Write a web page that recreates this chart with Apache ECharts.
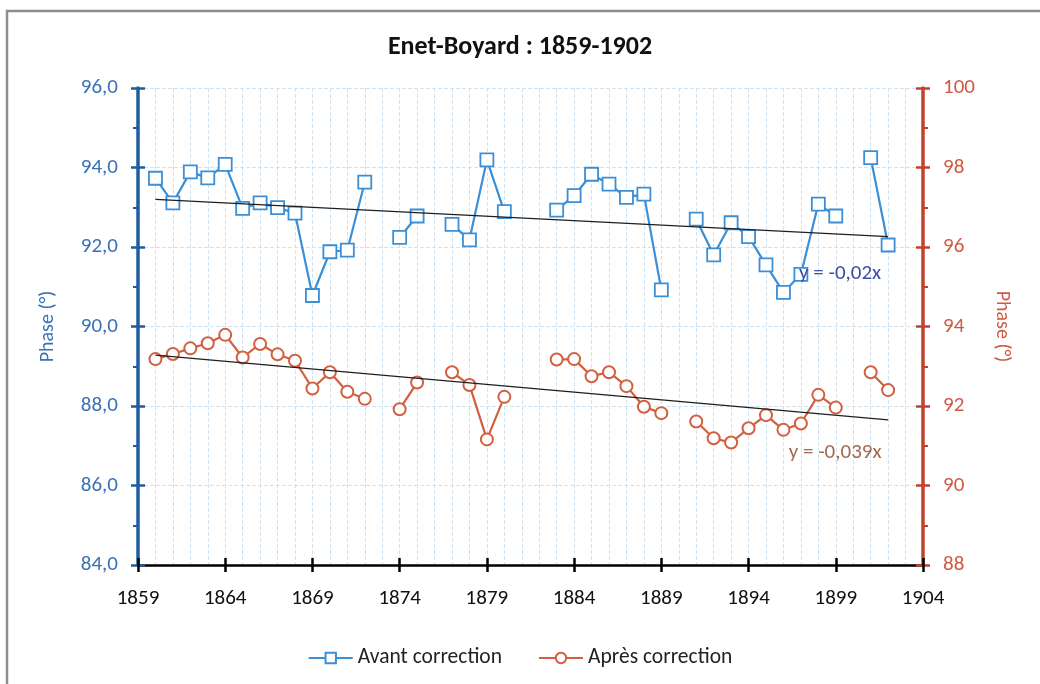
<!DOCTYPE html>
<html>
<head>
<meta charset="utf-8">
<script src="https://cdn.jsdelivr.net/npm/echarts@6/dist/echarts.min.js"></script>
<style>
  html, body { margin: 0; padding: 0; background: #fff; }
  #chart { width: 1040px; height: 684px; }
</style>
</head>
<body>
<div id="chart"></div>
<script>
// Phase measurements, Enet-Boyard station, one value per year (null = no measurement)
const years = [1860, 1861, 1862, 1863, 1864, 1865, 1866, 1867, 1868, 1869, 1870, 1871, 1872, 1873,
  1874, 1875, 1876, 1877, 1878, 1879, 1880, 1881, 1882, 1883, 1884, 1885, 1886, 1887, 1888, 1889,
  1890, 1891, 1892, 1893, 1894, 1895, 1896, 1897, 1898, 1899, 1900, 1901, 1902];

const avantCorrection = [93.73, 93.11, 93.89, 93.74, 94.08, 92.97, 93.11, 92.99, 92.85, 90.78,
  91.88, 91.92, 93.63, null, 92.24, 92.78, null, 92.57, 92.18, 94.19, 92.89, null, null, 92.93,
  93.29, 93.83, 93.58, 93.25, 93.33, 90.92, null, 92.70, 91.80, 92.61, 92.26, 91.55, 90.86,
  91.31, 93.08, 92.78, null, 94.25, 92.05];

const apresCorrection = [93.18, 93.31, 93.45, 93.58, 93.79, 93.22, 93.56, 93.30, 93.14, 92.44,
  92.85, 92.36, 92.18, null, 91.92, 92.59, null, 92.85, 92.53, 91.16, 92.23, null, null, 93.17,
  93.18, 92.75, 92.85, 92.50, 91.98, 91.82, null, 91.61, 91.19, 91.08, 91.44, 91.77, 91.40,
  91.56, 92.28, 91.96, null, 92.85, 92.40];

// Linear trend lines (start and end of the fitted segment)
const trendYears = [1860, 1902];
const trendAvant = [93.20, 92.26];
const trendApres = [93.28, 91.65];
const trendLabels = ['y = -0,02x', 'y = -0,039x'];

const seriesNames = ['Avant correction', 'Après correction'];
const chartTitle = 'Enet-Boyard : 1859-1902';
const axisName = 'Phase (°)';

const FONT = "Carlito, 'Liberation Sans Narrow', 'Open Sans', sans-serif";
const BLUE = '#3a8fd6';
const BLUE_AXIS = '#1f5d9c';
const BLUE_TEXT = '#3a72b5';
const RED = '#d2603f';
const RED_AXIS = '#c2432b';
const RED_TEXT = '#cf5a44';
const GRID = '#cfe3f3';
const TICK_FS = 21;

const pairs = (vals) => years.map((y, i) => [y, vals[i] === null ? '-' : vals[i]]);

function trendData(vals, label, offset, color) {
  return trendYears.map((y, i) => {
    const item = { value: [y, vals[i]] };
    if (i === trendYears.length - 1) {
      item.label = {
        show: true, position: 'inside', offset: offset, formatter: label,
        color: color, fontSize: 21, fontFamily: FONT
      };
    }
    return item;
  });
}

const chart = echarts.init(document.getElementById('chart'), null, { renderer: 'canvas' });

const grid = { left: 138, right: 117, top: 88, bottom: 119 };

chart.setOption({
  backgroundColor: '#fff',
  animation: false,
  title: {
    text: chartTitle, left: 'center', top: 29,
    textStyle: { fontFamily: FONT, fontSize: 26, fontWeight: 'bold', color: '#111' }
  },
  graphic: [{
    type: 'rect', silent: true,
    shape: { x: 7, y: 11, width: 1060, height: 700 },
    style: { fill: 'none', stroke: '#8e8e8e', lineWidth: 2.5 }
  }],
  legend: {
    data: seriesNames, bottom: 10, left: 'center',
    itemWidth: 44, itemHeight: 13, itemGap: 36,
    textStyle: { fontFamily: FONT, fontSize: 21.5, color: '#222' }
  },
  grid: grid,
  xAxis: [{
    type: 'value', min: 1859, max: 1904, interval: 5,
    axisLine: { lineStyle: { color: '#000', width: 2.5 } },
    axisTick: { show: true, length: 7, lineStyle: { color: '#000', width: 2.5 } },
    axisLabel: { margin: 23, fontFamily: FONT, fontSize: TICK_FS, color: '#111', formatter: v => String(v) },
    splitLine: { show: true, lineStyle: { color: GRID, type: 'dashed', width: 1 } },
    minorTick: { show: false, splitNumber: 5 },
    minorSplitLine: { show: true, lineStyle: { color: GRID, type: 'dashed', width: 1 } }
  }, {
    type: 'value', min: 1859, max: 1904, interval: 5, position: 'bottom',
    axisLine: { show: false },
    axisTick: { show: true, inside: true, length: 7, lineStyle: { color: '#000', width: 2.5 } },
    axisLabel: { show: false }, splitLine: { show: false }
  }],
  yAxis: [{
    type: 'value', position: 'left', min: 84, max: 96, interval: 2,
    name: axisName, nameLocation: 'middle', nameGap: 80,
    nameTextStyle: { fontFamily: FONT, fontSize: 20, color: BLUE_TEXT },
    axisLine: { show: true, lineStyle: { color: BLUE_AXIS, width: 3.5 } },
    axisTick: { show: true, length: 7, lineStyle: { color: BLUE_AXIS, width: 2.5 } },
    minorTick: { show: true, splitNumber: 2, length: 5, lineStyle: { color: BLUE_AXIS, width: 2 } },
    axisLabel: { margin: 20, fontFamily: FONT, fontSize: TICK_FS, color: BLUE_TEXT,
      formatter: v => v.toFixed(1).replace('.', ',') },
    splitLine: { show: true, lineStyle: { color: GRID, type: 'dashed', width: 1 } }
  }, {
    type: 'value', position: 'right', min: 88, max: 100, interval: 2,
    name: axisName, nameLocation: 'middle', nameGap: 69, nameRotate: -90,
    nameTextStyle: { fontFamily: FONT, fontSize: 20, color: RED_TEXT },
    axisLine: { show: true, lineStyle: { color: RED_AXIS, width: 3.5 } },
    axisTick: { show: true, length: 7, lineStyle: { color: RED_AXIS, width: 2.5 } },
    minorTick: { show: true, splitNumber: 2, length: 5, lineStyle: { color: RED_AXIS, width: 2 } },
    axisLabel: { margin: 20, fontFamily: FONT, fontSize: TICK_FS, color: RED_TEXT, formatter: v => String(v) },
    splitLine: { show: false }
  }, {
    type: 'value', position: 'left', min: 84, max: 96, interval: 2,
    axisLine: { show: false },
    axisTick: { show: true, inside: true, length: 7, lineStyle: { color: BLUE_AXIS, width: 2.5 } },
    axisLabel: { show: false }, splitLine: { show: false }
  }, {
    type: 'value', position: 'right', min: 88, max: 100, interval: 2,
    axisLine: { show: false },
    axisTick: { show: true, inside: true, length: 7, lineStyle: { color: RED_AXIS, width: 2.5 } },
    axisLabel: { show: false }, splitLine: { show: false }
  }],
  series: [{
    name: seriesNames[0], type: 'line', yAxisIndex: 0,
    data: pairs(avantCorrection), connectNulls: false,
    symbol: 'rect', symbolSize: 13,
    lineStyle: { color: BLUE, width: 2.2 },
    itemStyle: { color: '#fff', borderColor: BLUE, borderWidth: 1.8 },
    z: 4
  }, {
    name: seriesNames[1], type: 'line', yAxisIndex: 1,
    data: pairs(apresCorrection), connectNulls: false,
    symbol: 'circle', symbolSize: 12,
    lineStyle: { color: RED, width: 2.2 },
    itemStyle: { color: '#fff', borderColor: RED, borderWidth: 2 },
    z: 4
  }, {
    name: 'trend-avant', type: 'line', yAxisIndex: 0,
    data: trendData(trendAvant, trendLabels[0], [-48, 37], '#3c4fa3'),
    symbol: 'circle', symbolSize: 0, silent: true,
    lineStyle: { color: '#1e1e1e', width: 1.3 }, itemStyle: { color: '#1e1e1e' },
    z: 5
  }, {
    name: 'trend-apres', type: 'line', yAxisIndex: 1,
    data: trendData(trendApres, trendLabels[1], [-53, 33], '#a06a52'),
    symbol: 'circle', symbolSize: 0, silent: true,
    lineStyle: { color: '#1e1e1e', width: 1.3 }, itemStyle: { color: '#1e1e1e' },
    z: 5
  }]
});
</script>
</body>
</html>
